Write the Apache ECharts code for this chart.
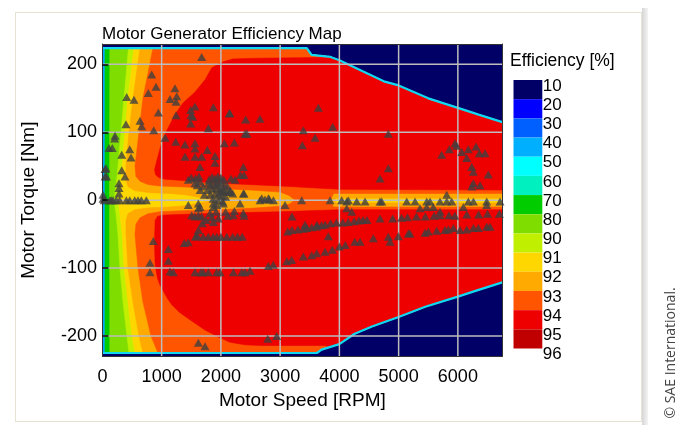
<!DOCTYPE html>
<html>
<head>
<meta charset="utf-8">
<script src="https://cdn.jsdelivr.net/npm/echarts@6/dist/echarts.min.js"></script>
<style>
  html, body { margin: 0; padding: 0; background: #ffffff; }
  #frame { position: absolute; left: 15px; top: 12px; width: 627px; height: 410px;
           border: 1.5px solid #e6e2d4; box-sizing: border-box; }
  #shade { position: absolute; left: 642px; top: 8px; width: 6px; height: 417px;
           background: linear-gradient(to right, #d6d6d6, #f4f4f4); }
  #chart { position: absolute; left: 0; top: 0; width: 678px; height: 425px; }
</style>
</head>
<body>
<div id="frame"></div>
<div id="shade"></div>
<div id="chart"></div>
<script>
// ---- axes ----
const SPEED_TICKS = [0, 1000, 2000, 3000, 4000, 5000, 6000];
const TORQUE_TICKS = [-200, -100, 0, 100, 200];
const SPEED_MAX = 6750;
const TORQUE_LIM = 230;

// ---- colour scale (band between consecutive labels) ----
const EFF_LABELS = ['10', '20', '30', '40', '50', '60', '70', '80', '90', '91', '92', '93', '94', '95', '96'];
const BAND_COLORS = ['#000066', '#0000ff', '#0060ff', '#00b0ff', '#00ffff', '#00f0c0', '#00cc00',
                     '#80dd00', '#c0f000', '#ffd700', '#ffaa00', '#ff5500', '#ee0000', '#c00000'];

// ---- torque envelope [rpm, Nm] ----
const ENV_TOP = [[0, 224], [3450, 224], [3530, 214], [3850, 211], [4000, 206], [4750, 175], [5000, 169],
                 [5500, 150], [6000, 136], [6350, 126], [6750, 115]];
const ENV_BOT = [[0, -225], [3620, -225], [3700, -220], [3850, -216], [4000, -212], [4250, -197],
                 [4550, -186], [5000, -172], [5450, -157], [6000, -142], [6350, -132], [6750, -121]];

// ---- contour lines on the low-speed side, listed from top to bottom ----
const EDGE_20 = [[0, 224], [0, -225]];
const EDGE_60 = [[44, 224], [44, -225]];
const EDGE_80 = [[125, 224], [120, 0], [125, -225]];
const EDGE_90 = [[440, 224], [365, 150], [314, 100], [263, 50], [230, 20], [196, 0], [230, -20],
                 [263, -50], [297, -100], [348, -150], [415, -200], [449, -225]];
const EDGE_91 = [[533, 224], [432, 150], [381, 100], [331, 50], [297, 20], [263, 0], [297, -20],
                 [331, -50], [365, -100], [432, -150], [500, -200], [550, -225]];
const EDGE_92 = [[635, 224], [517, 150], [449, 100], [398, 50], [398, 30], [432, 20], [550, 14],
                 [804, 11], [1142, 10], [1394, 8], [1648, 4], [1850, 0], [1648, -4], [1394, -8],
                 [1142, -10], [804, -11], [550, -14], [432, -20], [398, -30], [398, -50], [432, -100],
                 [517, -150], [618, -200], [685, -225]];
const EDGE_93 = [[854, 224], [685, 150], [618, 100], [550, 50], [567, 35], [635, 28], [770, 23],
                 [972, 21], [1226, 20], [1500, 19], [2000, 17], [2500, 15], [3000, 12], [3150, 7],
                 [3250, 0], [3150, -6], [3000, -9], [2500, -12], [2000, -14], [1500, -15], [1226, -16],
                 [972, -17], [770, -20], [635, -26], [567, -35], [550, -50], [601, -100], [685, -150],
                 [820, -200], [939, -225]];

// ---- zero-torque strip on the high-speed side, right edge from top to bottom ----
const STRIP_92 = [[6750, 3], [3950, 3], [3900, 0], [3950, -4], [6750, -4]];
const STRIP_93 = [[6750, 10], [3900, 10], [3850, 0], [3900, -10], [6750, -10]];

// ---- 94 % islands ----
const ISLAND_94_UP = [[3600, 210], [2600, 209], [2200, 208], [2016, 203], [1848, 195], [1730, 177],
                      [1561, 159], [1359, 143], [1224, 126], [1089, 103], [988, 81], [921, 59], [880, 45],
                      [900, 37], [960, 33], [1055, 31], [1360, 29], [1980, 25], [3000, 21], [4000, 16],
                      [6750, 15]];
const ISLAND_94_LOW = [[3750, -214], [2700, -214], [2404, -213], [2151, -209], [1949, -201], [1730, -191],
                       [1477, -176], [1300, -165], [1173, -154], [1100, -145], [971, -125], [930, -115],
                       [890, -95], [880, -60], [890, -30], [930, -24], [1000, -22], [1300, -21], [2000, -19],
                       [3000, -17], [4000, -14], [6750, -14]];

// ---- measured operating points [rpm, Nm] ----
const OP_UPPER = [[1676, 211], [832, 185], [905, 167], [775, 158], [1225, 165], [1141, 149], [1254, 153],
  [1243, 145], [410, 152], [533, 148], [944, 129], [1243, 125], [1563, 138], [1873, 137], [2143, 128],
  [2418, 119], [2660, 120], [3645, 136], [3392, 103], [3887, 108], [3589, 92], [3375, 81], [1524, 123],
  [1490, 113], [1788, 106], [2407, 98], [635, 117], [663, 109], [398, 112], [866, 103], [213, 95],
  [207, 91], [111, 77], [167, 77], [461, 75], [326, 67], [483, 63], [44, 46], [44, 35], [280, 25],
  [280, 18], [280, 10], [326, 44], [381, 35], [1057, 92], [1237, 86], [1394, 82], [1563, 84], [1563, 76],
  [1771, 74], [2058, 84], [2227, 85], [1394, 64], [1563, 64], [1676, 64], [1901, 65], [1901, 55],
  [1647, 49], [2379, 49], [2390, 37], [2239, 30], [1450, 30], [1500, 33], [1563, 25], [1647, 27],
  [2390, 10], [1496, 125], [4826, 98], [4826, 47], [4686, 32], [5727, 67], [5856, 75], [5952, 84],
  [5980, 80], [6066, 71], [6177, 75], [6150, 62], [6307, 79], [6362, 69], [6458, 69], [6234, 49],
  [6262, 42], [6262, 25], [6234, 20], [6374, 22], [6514, 38], [5812, 8], [60, 47], [70, 35],
  [1490, 133], [2150, 128], [2440, 98]];
const OP_CLUSTER = [[1800, 30], [1850, 34], [1900, 32], [1950, 35], [2000, 33], [2050, 30], [1820, 22],
  [1880, 25], [1940, 27], [2000, 25], [2060, 22], [2110, 20], [1780, 15], [1850, 17], [1920, 18],
  [1980, 16], [2040, 14], [2100, 12], [1820, 8], [1900, 10], [1960, 8], [2020, 6], [2080, 5], [1870, 2],
  [1950, 0], [2030, -2], [1990, 12], [1930, 22], [2160, 14], [2200, 10], [1700, 20], [1650, 15],
  [1600, 22], [1720, 8], [1572, 32], [1630, 35], [1790, 25], [2041, 15], [2150, 12], [2170, 32],
  [2330, 37]];
const OP_ZERO = [[10, 2], [10, 8], [30, 0], [128, 0], [151, 0], [180, 0], [235, 0], [292, 0], [404, 0],
  [461, 0], [545, 0], [601, 0], [657, 0], [741, 0], [1450, -7], [1619, -5], [1648, -10], [1872, -5],
  [1929, -7], [2041, -5], [2323, -5], [2379, 10], [2661, 0], [2745, 1], [2818, 1], [2886, 0],
  [3082, -7], [3364, 0], [3842, 0], [4040, 0], [4151, 0], [2689, 3], [2802, 3], [4124, -2], [4293, -2],
  [4433, -2], [4686, -2], [4715, -2], [5137, -2], [5277, -2], [5474, -2], [5530, -2], [5699, -2],
  [5812, -2], [5896, -2], [6177, -2], [6262, -2], [6487, -2], [6712, -2], [4124, -12], [4208, -17],
  [5361, -12], [5474, -10], [5586, -10], [5699, -17], [6093, -10], [6487, -7]];
const OP_LOWER = [[1620, -12], [1873, -10], [1507, -22], [1563, -24], [1620, -22], [1676, -24],
  [1816, -19], [1845, -25], [1873, -32], [1957, -27], [2115, -23], [2227, -16], [2390, -23], [1686, -34],
  [1750, -29], [1920, -17], [2080, -17], [2210, -22], [2379, -19], [3200, -24], [3420, -36], [3620, -36],
  [1620, -44], [1600, -52], [1570, -54], [1700, -54], [1788, -54], [1870, -54], [1930, -54], [2000, -54],
  [2100, -54], [2200, -54], [2280, -54], [2360, -54], [859, -60], [1113, -72], [1383, -63], [1450, -62],
  [803, -92], [803, -106], [1113, -89], [1141, -105], [1197, -106], [1563, -106], [1664, -106],
  [1703, -106], [1788, -106], [1929, -106], [1985, -106], [2210, -106], [2351, -106], [2407, -106],
  [2492, -104], [2800, -97], [2885, -95], [3111, -90], [3195, -88], [3392, -83], [3533, -81], [3617, -78],
  [3758, -76], [3880, -73], [4000, -68], [4100, -66], [4260, -61], [4350, -61], [4573, -56], [4826, -54],
  [4855, -61], [4995, -53], [5164, -49], [5192, -49], [5446, -48], [5502, -46], [5643, -45], [5783, -44],
  [5839, -43], [5924, -41], [6037, -44], [6150, -43], [6262, -41], [6346, -41], [6487, -39], [6543, -39],
  [3128, -46], [3200, -44], [3300, -43], [3392, -42], [3450, -41], [3533, -40], [3617, -39], [3700, -37],
  [3760, -36], [3850, -34], [3950, -33], [4057, -33], [4150, -32], [4250, -31], [4330, -30], [4400, -29],
  [4466, -29], [4686, -27], [4900, -27], [5050, -26], [5150, -25], [5300, -24], [5450, -24], [5600, -23],
  [5700, -22], [5850, -22], [5950, -23], [6150, -21], [6350, -21], [6500, -20], [6700, -20], [3813, -53],
  [1620, -210], [1732, -215], [2790, -204], [2942, -200]];

const FONT = "'Liberation Sans', Arial, sans-serif";

// Region at or above a level: envelope on top/right/bottom, contour line on the left,
// optional notch cut in from the right edge along zero torque.
function levelRegion(edge, notch) {
  const left = edge[0][0], leftBot = edge[edge.length - 1][0];
  const top = ENV_TOP.filter(p => p[0] > left);
  const bot = ENV_BOT.filter(p => p[0] > leftBot).reverse();
  return [edge[0]].concat(top, notch || [], bot, edge.slice().reverse());
}
function islandUp() {
  return ISLAND_94_UP.concat(ENV_TOP.filter(p => p[0] > ISLAND_94_UP[0][0]).reverse());
}
function islandLow() {
  return ISLAND_94_LOW.concat(ENV_BOT.filter(p => p[0] > ISLAND_94_LOW[0][0]).reverse());
}

function polySeries(pts, color, z) {
  return {
    type: 'custom', xAxisIndex: 0, yAxisIndex: 0, z: z, silent: true, clip: true,
    data: pts,
    renderItem: function (params, api) {
      if (params.dataIndex !== 0) return null;
      return { type: 'polygon', shape: { points: pts.map(p => api.coord(p)) },
               style: { fill: color, stroke: color, lineWidth: 0.6 } };
    }
  };
}

const chart = echarts.init(document.getElementById('chart'), null, { renderer: 'canvas' });

const series = [
  polySeries(levelRegion(EDGE_20), '#00a8ff', 1),
  polySeries(levelRegion(EDGE_60), BAND_COLORS[6], 2),
  polySeries(levelRegion(EDGE_80), BAND_COLORS[7], 3),
  polySeries(levelRegion(EDGE_90), BAND_COLORS[8], 4),
  polySeries(levelRegion(EDGE_91), BAND_COLORS[9], 5),
  polySeries(levelRegion(EDGE_92, STRIP_92), BAND_COLORS[10], 6),
  polySeries(levelRegion(EDGE_93, STRIP_93), BAND_COLORS[11], 7),
  polySeries(islandUp(), BAND_COLORS[12], 8),
  polySeries(islandLow(), BAND_COLORS[12], 8),
  // envelope edge
  { type: 'line', data: ENV_TOP, xAxisIndex: 0, yAxisIndex: 0, z: 9, silent: true, showSymbol: false,
    lineStyle: { color: '#10d8f0', width: 2.2 } },
  { type: 'line', data: ENV_BOT, xAxisIndex: 0, yAxisIndex: 0, z: 9, silent: true, showSymbol: false,
    lineStyle: { color: '#10d8f0', width: 2.2 } },
  // grid lines drawn over the map
  { type: 'custom', xAxisIndex: 0, yAxisIndex: 0, z: 10, silent: true, clip: true,
    data: SPEED_TICKS.filter(v => v > 0).map(v => [v, 0]),
    renderItem: function (params, api) {
      const a = api.coord([api.value(0), TORQUE_LIM]), b = api.coord([api.value(0), -TORQUE_LIM]);
      return { type: 'line', shape: { x1: a[0], y1: a[1], x2: b[0], y2: b[1] },
               style: { stroke: '#bdbdbd', lineWidth: 1.5 } };
    } },
  { type: 'custom', xAxisIndex: 0, yAxisIndex: 0, z: 10, silent: true, clip: true,
    data: TORQUE_TICKS.map(v => [0, v]),
    renderItem: function (params, api) {
      const a = api.coord([0, api.value(1)]), b = api.coord([SPEED_MAX, api.value(1)]);
      return { type: 'line', shape: { x1: a[0], y1: a[1], x2: b[0], y2: b[1] },
               style: { stroke: '#bdbdbd', lineWidth: 1.5 } };
    } },
  // operating points
  { type: 'scatter', xAxisIndex: 0, yAxisIndex: 0, z: 12, silent: true, symbol: 'triangle',
    symbolSize: [9, 8], itemStyle: { color: '#404040' },
    data: OP_UPPER.concat(OP_CLUSTER, OP_ZERO, OP_LOWER) },
  // colour bar
  { type: 'custom', xAxisIndex: 2, yAxisIndex: 2, z: 5, silent: true,
    data: BAND_COLORS.map((c, i) => [0, i]),
    renderItem: function (params, api) {
      const i = api.value(1);
      const a = api.coord([0, i]), b = api.coord([1, i + 1]);
      return { type: 'rect', shape: { x: a[0], y: a[1], width: b[0] - a[0], height: b[1] - a[1] },
               style: { fill: BAND_COLORS[i] } };
    } }
];

const option = {
  animation: false,
  textStyle: { fontFamily: FONT },
  title: [
    { text: 'Motor Generator Efficiency Map', left: 102, top: 26, padding: 0,
      textStyle: { fontSize: 17, fontWeight: 'normal', color: '#000', fontFamily: FONT } },
    { text: 'Efficiency [%]', left: 510, top: 52.5, padding: 0,
      textStyle: { fontSize: 17.5, fontWeight: 'normal', color: '#000', fontFamily: FONT } }
  ],
  grid: [
    { left: 102.4, top: 44, right: 175.7, bottom: 68.6, show: true, backgroundColor: BAND_COLORS[0],
      borderWidth: 0 },
    { left: 513.5, top: 80, width: 28.8, height: 268.5 }
  ],
  xAxis: [
    { type: 'value', gridIndex: 0, min: 0, max: SPEED_MAX, z: 15,
      name: 'Motor Speed [RPM]', nameLocation: 'middle', nameGap: 25,
      nameTextStyle: { fontSize: 19, color: '#000', fontFamily: FONT },
      axisLine: { show: true, onZero: false, lineStyle: { color: '#333', width: 1 } },
      axisTick: { show: false },
      axisLabel: { customValues: SPEED_TICKS, formatter: v => String(v), fontSize: 18, color: '#000',
                   margin: 12, fontFamily: FONT },
      splitLine: { show: false } },
    { type: 'value', gridIndex: 0, position: 'top', min: 0, max: SPEED_MAX, z: 15,
      axisLine: { show: true, onZero: false, lineStyle: { color: '#333', width: 1 } },
      axisTick: { show: false }, axisLabel: { show: false }, splitLine: { show: false } },
    { type: 'value', gridIndex: 1, min: 0, max: 1, show: false }
  ],
  yAxis: [
    { type: 'value', gridIndex: 0, min: -TORQUE_LIM, max: TORQUE_LIM, z: 15,
      name: 'Motor Torque [Nm]', nameLocation: 'middle', nameGap: 64,
      nameTextStyle: { fontSize: 19, color: '#000', fontFamily: FONT },
      axisLine: { show: true, onZero: false, lineStyle: { color: '#333', width: 1 } },
      axisTick: { show: true, inside: true, length: 6, customValues: TORQUE_TICKS,
                  lineStyle: { color: '#000', width: 1.5 } },
      axisLabel: { customValues: TORQUE_TICKS, formatter: v => String(v), fontSize: 18, color: '#000',
                   margin: 5.4, fontFamily: FONT },
      splitLine: { show: false } },
    { type: 'value', gridIndex: 0, position: 'right', min: -TORQUE_LIM, max: TORQUE_LIM, z: 15,
      axisLine: { show: true, onZero: false, lineStyle: { color: '#333', width: 1 } },
      axisTick: { show: false }, axisLabel: { show: false }, splitLine: { show: false } },
    { type: 'value', gridIndex: 1, min: 0, max: 14, interval: 1, inverse: true, position: 'right',
      axisLine: { show: false }, axisTick: { show: false }, splitLine: { show: false },
      axisLabel: { formatter: v => EFF_LABELS[v], fontSize: 17, color: '#000', margin: 0.5,
                   verticalAlign: 'top', lineHeight: 12, fontFamily: FONT } }
  ],
  graphic: [
    { type: 'text', x: 671, y: 353, rotation: Math.PI / 2,
      style: { text: '\u00a9 SAE International.', fontSize: 14, fontFamily: "'Open Sans', sans-serif",
               fill: '#444', textAlign: 'center', textVerticalAlign: 'middle' } }
  ],
  series: series
};
chart.setOption(option);
</script>
</body>
</html>
